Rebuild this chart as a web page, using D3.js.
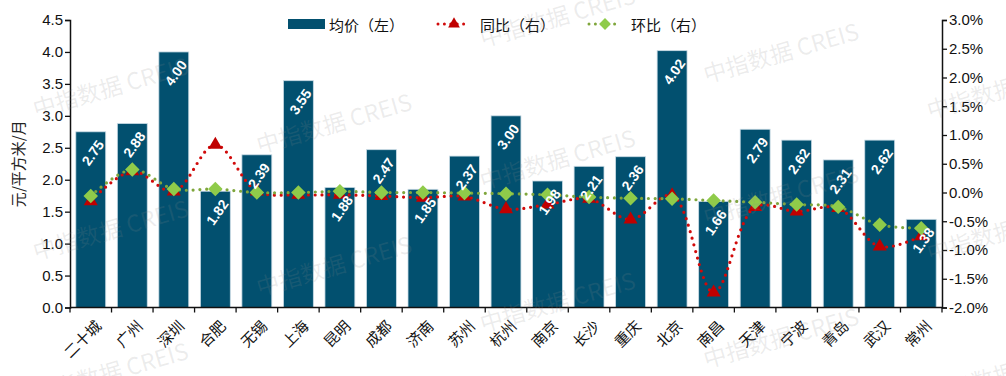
<!DOCTYPE html>
<html>
<head>
<meta charset="utf-8">
<script src="https://cdn.jsdelivr.net/npm/d3@7"></script>
<style>
  body { margin: 0; background: #fff; }
  svg { display: block; }
</style>
</head>
<body>
<svg id="chart" width="1006" height="376"></svg>
<script>
// data
var cities = ["二十城", "广州", "深圳", "合肥", "无锡", "上海", "昆明", "成都", "济南", "苏州", "杭州",
  "南京", "长沙", "重庆", "北京", "南昌", "天津", "宁波", "青岛", "武汉", "常州"];
var price = [2.75, 2.88, 4.00, 1.82, 2.39, 3.55, 1.88, 2.47, 1.85, 2.37, 3.00,
  1.98, 2.21, 2.36, 4.02, 1.66, 2.79, 2.62, 2.31, 2.62, 1.38];
// 同比 (%)
var yoy = [-0.15, 0.37, 0.02, 0.83, 0.02, -0.04, -0.04, -0.06, -0.09, -0.07, -0.29,
  -0.21, -0.11, -0.47, -0.05, -1.74, -0.25, -0.33, -0.27, -0.94, -0.76];
// 环比 (%)
var mom = [-0.06, 0.40, 0.06, 0.06, 0.0, 0.0, 0.02, 0.0, 0.0, -0.01, -0.02,
  -0.04, -0.08, -0.10, -0.11, -0.14, -0.17, -0.21, -0.25, -0.56, -0.62];
var leftTicks = [0, 0.5, 1, 1.5, 2, 2.5, 3, 3.5, 4, 4.5];
var rightTicks = [-2, -1.5, -1, -0.5, 0, 0.5, 1, 1.5, 2, 2.5, 3];

var barColor = "#02506f", red = "#c00000", redDot = "#d10a0a", green = "#8fcb4a", greenDot = "#7fa63c";
var numFont = "'Liberation Sans', Arial, sans-serif";
var cjkFont = "'Noto Sans CJK SC', 'Noto Sans', sans-serif";

var svg = d3.select("#chart");
// plot box (note: "top" is taken by window.top, so prefixed names)
var pLeft = 70, pRight = 942, pTop = 20, pBottom = 307.5;

var x = d3.scaleBand().domain(cities).range([pLeft, pRight]).paddingInner(0.28).paddingOuter(0.14);
var y = d3.scaleLinear().domain([0, 4.5]).range([pBottom, pTop]);
var y2 = d3.scaleLinear().domain([-2, 3]).range([pBottom, pTop]);
var cx = function(d) { return x(d) + x.bandwidth() / 2; };

// bars
svg.append("g").selectAll("rect")
  .data(price)
  .join("rect")
  .attr("x", (d, i) => x(cities[i]))
  .attr("y", d => y(d))
  .attr("width", x.bandwidth())
  .attr("height", d => pBottom - y(d))
  .attr("fill", barColor)
  .attr("stroke", "#c9dbe5")
  .attr("stroke-width", 0.8);

// smooth dotted lines, like excel's "smoothed line"
var line = d3.line().curve(d3.curveCatmullRom.alpha(0.5));

function drawSeries(vals, dotColor, markColor, shape, size) {
  svg.append("path")
    .attr("d", line(vals.map((v, i) => [cx(cities[i]), y2(v)])))
    .attr("fill", "none")
    .attr("stroke", dotColor)
    .attr("stroke-width", 3.2)
    .attr("stroke-linecap", "round")
    .attr("stroke-dasharray", "0,6.8");
  svg.append("g").selectAll("path")
    .data(vals)
    .join("path")
    .attr("d", d3.symbol().type(shape).size(size))
    .attr("transform", (d, i) => "translate(" + cx(cities[i]) + "," + y2(d) + ")" + (shape === d3.symbolSquare ? " rotate(45)" : ""))
    .attr("fill", markColor);
}
drawSeries(yoy, redDot, red, d3.symbolTriangle, 85);
drawSeries(mom, greenDot, green, d3.symbolSquare, 105);

// value labels inside the bars
svg.append("g").selectAll("text")
  .data(price)
  .join("text")
  .attr("transform", (d, i) => "translate(" + (cx(cities[i]) + 2) + "," + (y(d) + 21) + ") rotate(-55)")
  .attr("text-anchor", "middle")
  .attr("dominant-baseline", "central")
  .attr("fill", "#fff")
  .attr("font-family", numFont)
  .attr("font-size", 14)
  .attr("font-weight", "bold")
  .text(d => d.toFixed(2));

// left axis
var gl = svg.append("g").attr("transform", "translate(" + pLeft + ",0)")
  .call(d3.axisLeft(y).tickValues(leftTicks).tickFormat(d3.format(".1f")).tickSize(5).tickPadding(2));
// right axis
var gr = svg.append("g").attr("transform", "translate(" + pRight + ",0)")
  .call(d3.axisRight(y2).tickValues(rightTicks).tickFormat(d => d.toFixed(1) + "%").tickSize(5).tickPadding(2));
[gl, gr].forEach(function(g) {
  g.select(".domain").attr("stroke", "#111").attr("stroke-width", 1.5);
  g.selectAll(".tick line").attr("stroke", "#111").attr("stroke-width", 1.3);
  g.selectAll("text").attr("font-family", numFont).attr("font-size", 15).attr("fill", "#111");
});

// bottom axis: line + ticks between categories
var gb = svg.append("g");
gb.append("line").attr("x1", pLeft).attr("x2", pRight).attr("y1", pBottom).attr("y2", pBottom)
  .attr("stroke", "#111").attr("stroke-width", 1.5);
gb.selectAll(".sep")
  .data(d3.range(cities.length + 1))
  .join("line")
  .attr("x1", i => pLeft + i * x.step()).attr("x2", i => pLeft + i * x.step())
  .attr("y1", pBottom).attr("y2", pBottom + 5)
  .attr("stroke", "#111").attr("stroke-width", 1.3);
gb.selectAll("text")
  .data(cities)
  .join("text")
  .attr("transform", d => "translate(" + (cx(d) + 7) + "," + (pBottom + 15) + ") rotate(-45)")
  .attr("text-anchor", "end")
  .attr("dominant-baseline", "central")
  .attr("font-family", cjkFont)
  .attr("font-size", 15)
  .attr("fill", "#111")
  .text(d => d);

// y title
svg.append("text")
  .attr("transform", "translate(17," + (pTop + pBottom) / 2 + ") rotate(-90)")
  .attr("text-anchor", "middle")
  .attr("dominant-baseline", "central")
  .attr("font-family", cjkFont)
  .attr("font-size", 15)
  .attr("fill", "#222")
  .text("元/平方米/月");

// legend
var lg = svg.append("g").attr("font-family", cjkFont).attr("font-size", 15).attr("fill", "#111");
lg.append("rect").attr("x", 288).attr("y", 19).attr("width", 37).attr("height", 10).attr("fill", barColor);
lg.append("text").attr("x", 329).attr("y", 24).attr("dominant-baseline", "central").text("均价（左）");

function legendLine(x0, dotColor, markColor, shape, size, label) {
  lg.append("line").attr("x1", x0).attr("x2", x0 + 32).attr("y1", 24).attr("y2", 24)
    .attr("stroke", dotColor).attr("stroke-width", 3).attr("stroke-linecap", "round").attr("stroke-dasharray", "0,6.4");
  lg.append("path").attr("d", d3.symbol().type(shape).size(size))
    .attr("transform", "translate(" + (x0 + 16) + ",24)" + (shape === d3.symbolSquare ? " rotate(45)" : ""))
    .attr("fill", markColor);
  lg.append("text").attr("x", x0 + 42).attr("y", 24).attr("dominant-baseline", "central").text(label);
}
legendLine(438, redDot, red, d3.symbolTriangle, 60, "同比（右）");
legendLine(589, greenDot, green, d3.symbolSquare, 70, "环比（右）");

// watermark tiles on top, faint
var wm = svg.append("g").attr("pointer-events", "none");
var marks = [];
d3.range(-1, 6).forEach(function(c) {
  d3.range(-2, 4).forEach(function(r) {
    var px = 110 + c * 223.5, py = 86 + c * 36 + r * 142.5;
    if (px > -60 && px < 1070 && py > -20 && py < 400) marks.push([px, py]);
  });
});
wm.selectAll("text")
  .data(marks)
  .join("text")
  .attr("transform", d => "translate(" + d[0] + "," + d[1] + ") rotate(-16)")
  .attr("text-anchor", "middle")
  .attr("dominant-baseline", "central")
  .attr("font-family", cjkFont)
  .attr("font-size", 23)
  .attr("fill", "#8a8a8a")
  .attr("fill-opacity", 0.16)
  .text("中指数据 CREIS");
</script>
</body>
</html>
